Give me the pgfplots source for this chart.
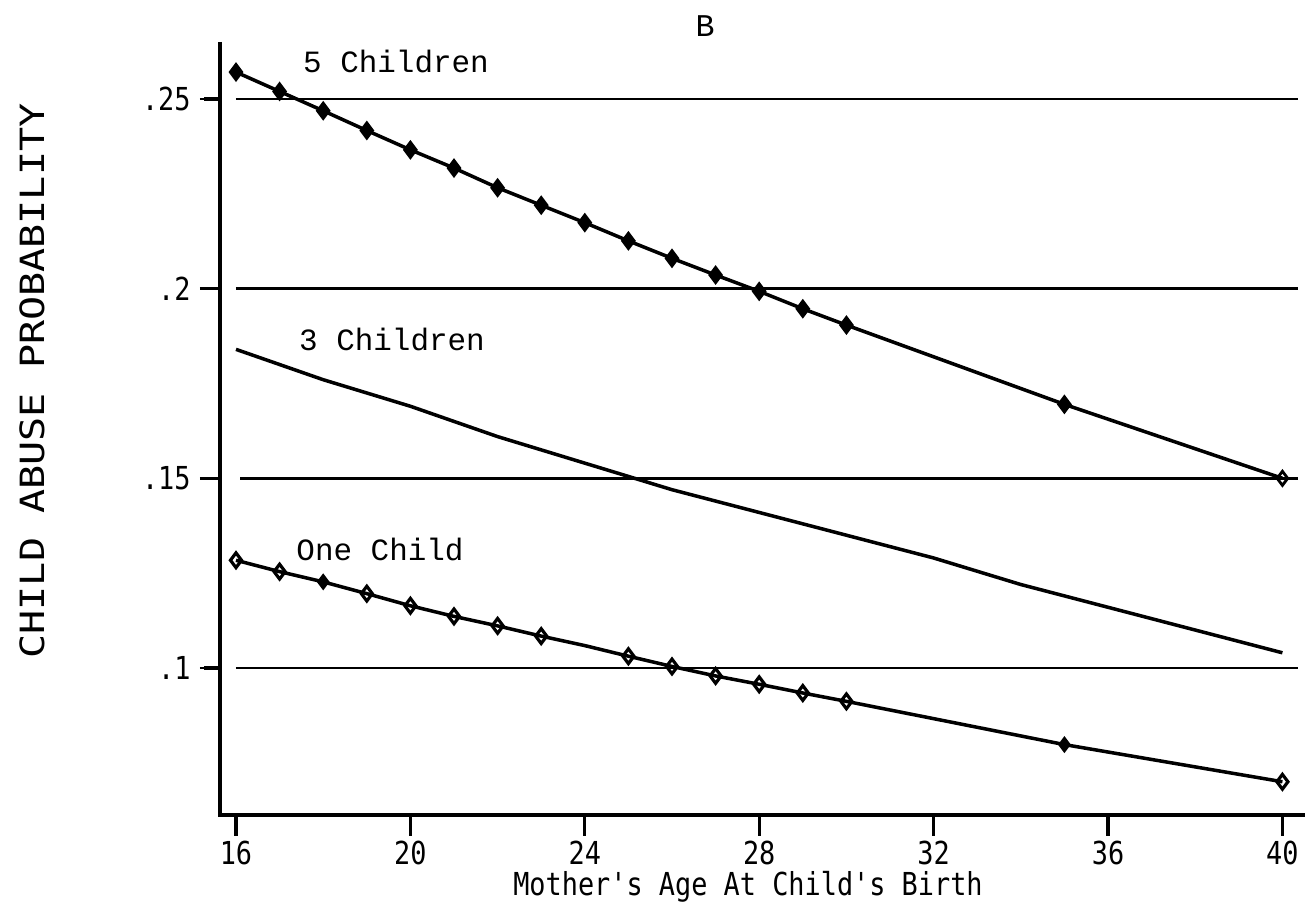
\documentclass[border=0pt]{standalone}
\usepackage{fontspec}
\usepackage{pgfplots}
\pgfplotsset{compat=1.18}
\newfontfamily\plotfont[FakeStretch=0.85]{DejaVu Sans Mono}
\newfontfamily\ylabfont[FakeStretch=1.2]{DejaVu Sans Mono}
\newfontfamily\curvefont{Liberation Mono}
\begin{document}
\begin{tikzpicture}
\path[use as bounding box] (-22mm,-10.1mm) rectangle (109.3mm,81.5mm);
\begin{axis}[at={(0,0)}, anchor=south west, scale only axis,
  width=108.5mm, height=77.3mm,
  xmin=15.633, xmax=40.518, ymin=0.06124, ymax=0.26504,
  axis line style={draw=none},
  xtick={16,20,24,28,32,36,40},
  ytick={0.1,0.15,0.2,0.25}, yticklabels={.1,.15,.2,.25},
  xtick pos=bottom, ytick pos=left,
  tick align=outside, major tick length=2mm,
  major tick style={draw=black, line width=0.8pt},
  tick label style={font=\plotfont\fontsize{9}{10}\selectfont},
  xticklabel style={yshift=0.6mm},
  yticklabel style={xshift=0.3mm},
  /pgf/number format/assume math mode=true,
  clip=false]
% spines
\draw[line width=0.9pt] (rel axis cs:0,1) -- (rel axis cs:0,0) -- (rel axis cs:1,0);
% reference lines
\addplot[line width=0.7pt] coordinates {(16,0.25) (40.35,0.25)};
\addplot[line width=0.7pt] coordinates {(16,0.2) (40.35,0.2)};
\addplot[line width=0.7pt] coordinates {(16.1,0.15) (40.35,0.15)};
\addplot[line width=0.7pt] coordinates {(16,0.1) (40.35,0.1)};
% 5 children
\addplot[line width=1pt, mark=diamond*, mark size=2pt, mark indices={1,...,16}] coordinates {
(16,0.2571) (17,0.2520) (18,0.2469) (19,0.2417) (20,0.2366) (21,0.2318)
(22,0.2266) (23,0.2220) (24,0.2174) (25,0.2126) (26,0.2080) (27,0.2036)
(28,0.1993) (29,0.1947) (30,0.1904) (35,0.1695) (40,0.1500)};
\addplot[only marks, mark=diamond, mark size=2pt, mark options={fill=white, line width=0.8pt}] coordinates {(40,0.1500)};
% 3 children
\addplot[line width=1pt] coordinates {
(16,0.184) (18,0.176) (20,0.169) (22,0.161) (24,0.154) (26,0.147) (28,0.141)
(30,0.135) (32,0.129) (34,0.122) (36,0.116) (38,0.110) (40,0.104)};
% one child
\addplot[line width=1pt] coordinates {
(16,0.1284) (17,0.1254) (18,0.1227) (19,0.1196) (20,0.1164) (21,0.1136)
(22,0.1111) (23,0.1084) (24,0.1059) (25,0.1031) (26,0.1004) (27,0.0979)
(28,0.0957) (29,0.0934) (30,0.0912) (35,0.0798) (40,0.0700)};
\addplot[only marks, mark=diamond, mark size=2.1pt, mark options={fill=white, line width=0.9pt}] coordinates {
(16,0.1284) (17,0.1254) (19,0.1196) (20,0.1164) (21,0.1136)
(22,0.1111) (23,0.1084) (25,0.1031) (26,0.1004) (27,0.0979)
(28,0.0957) (29,0.0934) (30,0.0912) (40,0.0700)};
\addplot[only marks, mark=diamond*, mark size=2.1pt] coordinates {(18,0.1227) (35,0.0798)};
\end{axis}
% tick marks (axis: 4.3601 mm per year from 15.633; 379.3 mm per unit from 0.06124)
\foreach \tx in {1.600,19.041,36.481,53.922,71.362,88.803,106.243}
  \draw[line width=0.9pt, black] (\tx mm,0mm) -- (\tx mm,-2.1mm);
\foreach \ty in {14.70,33.67,52.63,71.60}
  \draw[line width=0.9pt, black] (0mm,\ty mm) -- (-1.6mm,\ty mm);
\node[font=\curvefont\fontsize{9}{10}\selectfont] at (48.5mm,78.9mm) {B};
\node[font=\curvefont\fontsize{8.8}{10}\selectfont] at (17.6mm,75.3mm) {5 Children};
\node[font=\curvefont\fontsize{8.8}{10}\selectfont] at (17.2mm,47.5mm) {3 Children};
\node[font=\curvefont\fontsize{8.8}{10}\selectfont] at (16.0mm,26.5mm) {One Child};
\node[font=\plotfont\fontsize{9}{10}\selectfont] at (52.8mm,-7.2mm) {Mother's Age At Child's Birth};
\node[font=\ylabfont\fontsize{9.5}{10}\selectfont, rotate=90] at (-18.8mm,43.4mm) {CHILD ABUSE PROBABILITY};
\end{tikzpicture}
\end{document}
